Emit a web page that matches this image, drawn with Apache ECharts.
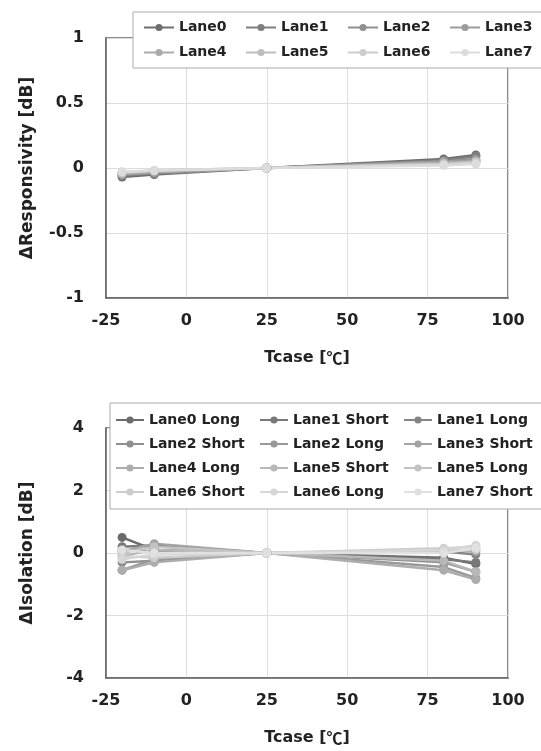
<!DOCTYPE html>
<html>
<head>
<meta charset="utf-8">
<script src="https://cdn.jsdelivr.net/npm/echarts@6/dist/echarts.min.js"></script>
<style>
  html, body { margin: 0; padding: 0; background: #fff; }
  #chart1 { width: 541px; height: 751px; }
</style>
</head>
<body>
<div id="chart1"></div>
<script>
// 温度点 (Tcase)
let tcase = [-20, -10, 25, 80, 90];

// 上图：ΔResponsivity
let respNames = ['Lane0', 'Lane1', 'Lane2', 'Lane3', 'Lane4', 'Lane5', 'Lane6', 'Lane7'];
let respValues = [
    [-0.07, -0.05, 0, 0.07, 0.10],
    [-0.06, -0.04, 0, 0.06, 0.09],
    [-0.05, -0.04, 0, 0.05, 0.07],
    [-0.05, -0.03, 0, 0.05, 0.06],
    [-0.04, -0.03, 0, 0.04, 0.05],
    [-0.04, -0.02, 0, 0.03, 0.05],
    [-0.03, -0.02, 0, 0.03, 0.04],
    [-0.03, -0.02, 0, 0.02, 0.03]
];

// 下图：ΔIsolation
let isoNames = ['Lane0 Long', 'Lane1 Short', 'Lane1 Long', 'Lane2 Short', 'Lane2 Long', 'Lane3 Short',
    'Lane4 Long', 'Lane5 Short', 'Lane5 Long', 'Lane6 Short', 'Lane6 Long', 'Lane7 Short'];
let isoValues = [
    [0.5, 0.1, 0, -0.15, -0.35],
    [0.2, 0.25, 0, -0.2, -0.3],
    [0.1, 0.05, 0, 0.05, -0.05],
    [-0.3, -0.25, 0, -0.3, -0.6],
    [-0.55, -0.2, 0, -0.45, -0.8],
    [0.05, 0.3, 0, 0.1, 0.05],
    [-0.55, -0.3, 0, -0.55, -0.85],
    [-0.1, 0.1, 0, -0.25, -0.6],
    [0.0, 0.2, 0, 0.05, 0.1],
    [-0.1, -0.15, 0, 0.15, 0.2],
    [-0.2, -0.05, 0, 0.1, 0.25],
    [0.1, 0.0, 0, 0.0, 0.15]
];

// 灰度颜色
let respColor = ['#6e6e6e', '#7e7e7e', '#8f8f8f', '#9d9d9d', '#ababab', '#bdbdbd', '#cccccc', '#dcdcdc'];
let isoColor = ['#6b6b6b', '#787878', '#858585', '#8f8f8f', '#999999', '#a3a3a3',
    '#adadad', '#b7b7b7', '#c2c2c2', '#cccccc', '#d6d6d6', '#e0e0e0'];

let font = 'DejaVu Sans';

let chart1 = echarts.init(document.getElementById('chart1'));

function xAxisOf(idx) {
    return {
        gridIndex: idx,
        type: 'value',
        min: -25,
        max: 100,
        interval: 25,
        name: 'Tcase [{c|℃}]',
        nameLocation: 'middle',
        nameGap: 52,
        nameTextStyle: {
            color: '#222', fontSize: 16, fontWeight: 'bold', fontFamily: font,
            rich: { c: { fontSize: 16, fontWeight: 'bold', fontFamily: 'Noto Sans CJK JP', color: '#222' } }
        },
        axisLine: { show: true, onZero: false, lineStyle: { color: '#666', width: 1.5 } },
        axisTick: { show: false },
        axisLabel: { color: '#222', fontSize: 16, fontWeight: 'bold', fontFamily: font, margin: 15 },
        splitLine: { show: true, lineStyle: { color: '#dcdcdc', width: 1 } }
    };
}

function yAxisOf(idx, name, min, max, interval) {
    return {
        gridIndex: idx,
        type: 'value',
        min: min,
        max: max,
        interval: interval,
        name: name,
        nameLocation: 'middle',
        nameGap: 70,
        nameTextStyle: { color: '#222', fontSize: 17, fontWeight: 'bold', fontFamily: font },
        axisLine: { show: true, onZero: false, lineStyle: { color: '#666', width: 1.5 } },
        axisTick: { show: false },
        axisLabel: { color: '#222', fontSize: 16, fontWeight: 'bold', fontFamily: font, margin: 22 },
        splitLine: { show: true, lineStyle: { color: '#dcdcdc', width: 1 } }
    };
}

function seriesOf(names, values, colors, idx) {
    return names.map(function (n, i) {
        return {
            name: n,
            type: 'line',
            xAxisIndex: idx,
            yAxisIndex: idx,
            symbol: 'circle',
            symbolSize: 9,
            color: colors[i],
            lineStyle: { width: 2.5 },
            data: tcase.map(function (t, k) { return [t, values[i][k]]; })
        };
    });
}

let option = {
    backgroundColor: '#fff',
    animation: false,
    grid: [
        { left: 106, right: 33, top: 38, bottom: 453, show: true, borderColor: '#666', borderWidth: 1.5 },
        { left: 106, right: 33, top: 428, bottom: 73, show: true, borderColor: '#666', borderWidth: 1.5 }
    ],
    legend: [{
        data: respNames,
        left: 133,
        top: 12,
        width: 410,
        itemWidth: 30,
        itemHeight: 9,
        itemGap: 8,
        padding: [7, 8, 7, 10],
        backgroundColor: '#fff',
        borderColor: '#aaa',
        borderWidth: 1,
        textStyle: { color: '#222', fontSize: 14, fontWeight: 'bold', fontFamily: font, width: 58, lineHeight: 17 }
    }, {
        data: isoNames,
        left: 110,
        top: 403,
        width: 425,
        itemWidth: 28,
        itemHeight: 9,
        itemGap: 10,
        padding: [10, 8, 10, 5],
        backgroundColor: '#fff',
        borderColor: '#aaa',
        borderWidth: 1,
        textStyle: { color: '#222', fontSize: 14, fontWeight: 'bold', fontFamily: font, width: 100, lineHeight: 14 }
    }],
    xAxis: [xAxisOf(0), xAxisOf(1)],
    yAxis: [
        yAxisOf(0, 'ΔResponsivity [dB]', -1, 1, 0.5),
        yAxisOf(1, 'ΔIsolation [dB]', -4, 4, 2)
    ],
    series: seriesOf(respNames, respValues, respColor, 0).concat(seriesOf(isoNames, isoValues, isoColor, 1))
};

chart1.setOption(option);
window.onresize = chart1.resize;
</script>
</body>
</html>
